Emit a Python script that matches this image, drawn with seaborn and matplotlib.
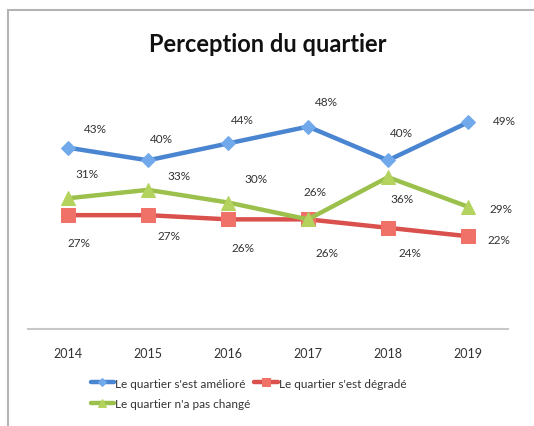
import pandas as pd
import matplotlib.pyplot as plt
import seaborn as sns
from matplotlib.patches import Rectangle

# data
years = ["2014", "2015", "2016", "2017", "2018", "2019"]
ameliore = [43, 40, 44, 48, 40, 49]
degrade = [27, 27, 26, 26, 24, 22]
pas_change = [31, 33, 30, 26, 36, 29]
series_names = ["Le quartier s'est amélioré", "Le quartier s'est dégradé",
                "Le quartier n'a pas changé"]

# label offsets (points) per series, per year
offsets = {
    series_names[0]: [(20, 14), (10, 16), (10, 17), (13, 18), (10, 20), (26, 1)],
    series_names[1]: [(8, -20), (15, -15), (11, -20), (14, -24), (16, -18), (22, -2)],
    series_names[2]: [(14, 18), (22, 10), (20, 17), (5, 20), (10, -15), (24, -1)],
}

df = pd.DataFrame({"year": years, series_names[0]: ameliore,
                   series_names[1]: degrade, series_names[2]: pas_change})
long = df.melt(id_vars="year", var_name="serie", value_name="pct")

sns.set_theme(style="white")
plt.rcParams["font.family"] = ["Lato", "DejaVu Sans"]

line_cols = {series_names[0]: "#4a85d2", series_names[1]: "#d9504c", series_names[2]: "#9bc04c"}
face_cols = {series_names[0]: "#72a9ea", series_names[1]: "#f07168", series_names[2]: "#b3d35e"}
markers = {series_names[0]: "D", series_names[1]: "s", series_names[2]: "^"}
msize = {series_names[0]: 7, series_names[1]: 10, series_names[2]: 10}

fig = plt.figure(figsize=(5.34, 4.27), dpi=100)
ax = fig.add_axes([28 / 534, 1 - 330 / 427, 480 / 534, 253 / 427])

for name in series_names:
    sub = long[long["serie"] == name]
    sns.lineplot(data=sub, x="year", y="pct", ax=ax, color=line_cols[name],
                 linewidth=3.2, marker=markers[name], markersize=msize[name],
                 markerfacecolor=face_cols[name], markeredgecolor=face_cols[name],
                 label=name, sort=False)
    for i, (yr, v) in enumerate(zip(sub["year"], sub["pct"])):
        ax.annotate(f"{v}%", (i, v), xytext=offsets[name][i], textcoords="offset points",
                    ha="center", va="center", fontsize=8.5, color="#333333")

ax.set_xlim(-0.5, 5.5)
ax.set_ylim(0, 60)
ax.set_yticks([])
ax.set_xlabel("")
ax.set_ylabel("")
for s in ["top", "right", "left"]:
    ax.spines[s].set_visible(False)
ax.spines["bottom"].set_color("#c8c8c8")
ax.spines["bottom"].set_linewidth(1.5)
ax.tick_params(axis="x", length=0, pad=13, labelsize=9, labelcolor="#333333")

handles, labels = ax.get_legend_handles_labels()
ax.get_legend().remove()
order = [0, 2, 1]  # column-major fill: row 1 = amélioré, dégradé ; row 2 = pas changé
fig.legend([handles[i] for i in order], [labels[i] for i in order],
           loc="upper left", bbox_to_anchor=(80 / 534, 1 - 368 / 427),
           ncol=2, frameon=False, fontsize=8.5, handlelength=2.0, handletextpad=0.1,
           columnspacing=0.3, labelspacing=0.8, labelcolor="#333333", markerscale=0.55)

fig.text(268 / 534, 1 - 45 / 427, "Perception du quartier", ha="center", va="center",
         fontsize=17, fontweight="bold", color="#111111")

# chart frame (cut at the right and bottom in the reference)
fig.patches.append(Rectangle((8 / 534, -0.1), 1.2, 1 - 11 / 427 + 0.1,
                             transform=fig.transFigure, fill=False,
                             edgecolor="#b4b4b4", linewidth=1.5))

fig.savefig("out.png", dpi=100)
